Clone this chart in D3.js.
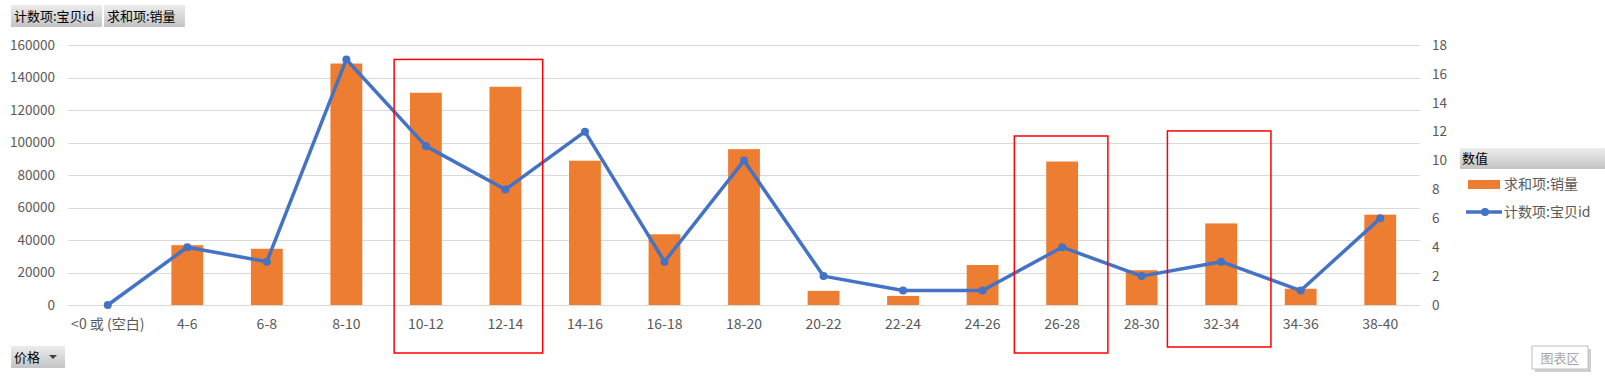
<!DOCTYPE html>
<html>
<head>
<meta charset="utf-8">
<script src="https://cdn.jsdelivr.net/npm/d3@7"></script>
<style>
  body { margin: 0; background: #fff; }
  svg text { font-family: "Noto Sans CJK SC", "Noto Sans", sans-serif; }
</style>
</head>
<body>
<div class="chart"></div>
<script>
// categories (price ranges)
const categories = ["<0 或 (空白)", "4-6", "6-8", "8-10", "10-12", "12-14", "14-16", "16-18",
  "18-20", "20-22", "22-24", "24-26", "26-28", "28-30", "32-34", "34-36", "38-40"];
// 求和项:销量 (bars, left axis)
const salesValues = [0, 36800, 34600, 148600, 130600, 134300, 88800, 43500,
  95900, 8700, 5600, 24600, 88300, 21400, 50200, 10000, 55600];
// 计数项:宝贝id (line, right axis)
const countValues = [0, 4, 3, 17, 11, 8, 12, 3, 10, 2, 1, 1, 4, 2, 3, 1, 6];
const leftTicks = [0, 20000, 40000, 60000, 80000, 100000, 120000, 140000, 160000];
const rightTicks = [0, 2, 4, 6, 8, 10, 12, 14, 16, 18];
// red highlight boxes: categories covered, top on right-axis scale
const highlights = [
  { from: "10-12", to: "12-14", top: 17 },
  { from: "26-28", to: "26-28", top: 11.7 },
  { from: "32-34", to: "32-34", top: 12.05 }
];

const W = 1605, H = 378;
const plot = { left: 68, right: 1420, top: 45, bottom: 305 };

const svg = d3.select(".chart").append("svg")
  .attr("width", W).attr("height", H);

const defs = svg.append("defs");
const grad = defs.append("linearGradient").attr("id", "btnGrad")
  .attr("x1", 0).attr("y1", 0).attr("x2", 0).attr("y2", 1);
grad.append("stop").attr("offset", "0%").attr("stop-color", "#ececec");
grad.append("stop").attr("offset", "100%").attr("stop-color", "#c4c4c4");

// scales
const x = d3.scaleBand().domain(categories).range([plot.left, plot.right]).paddingInner(0).paddingOuter(0);
const barW = x.bandwidth() / 2.5; // gap width 150%
const yL = d3.scaleLinear().domain([0, 160000]).range([plot.bottom, plot.top]);
const yR = d3.scaleLinear().domain([0, 18]).range([plot.bottom, plot.top]);

// gridlines
svg.append("g")
  .selectAll("line")
  .data(leftTicks)
  .join("line")
  .attr("x1", plot.left).attr("x2", plot.right)
  .attr("y1", d => Math.round(yL(d)) + 0.5).attr("y2", d => Math.round(yL(d)) + 0.5)
  .attr("stroke", "#d9d9d9").attr("stroke-width", 1);

// left axis
const axL = svg.append("g")
  .attr("transform", `translate(${plot.left - 13},0)`)
  .call(d3.axisLeft(yL).tickValues(leftTicks).tickFormat(d3.format("d")).tickSize(0).tickPadding(0));
axL.select(".domain").remove();
axL.selectAll("text").attr("fill", "#595959").style("font-size", "13.5px");

// right axis
const axR = svg.append("g")
  .attr("transform", `translate(${plot.right + 12},0)`)
  .call(d3.axisRight(yR).tickValues(rightTicks).tickSize(0).tickPadding(0));
axR.select(".domain").remove();
axR.selectAll("text").attr("fill", "#595959").style("font-size", "13.5px");

// x axis
const axX = svg.append("g")
  .attr("transform", `translate(0,${plot.bottom + 14})`)
  .call(d3.axisBottom(x).tickSize(0).tickPadding(0));
axX.select(".domain").remove();
axX.selectAll("text").attr("fill", "#595959").style("font-size", "14px");

// bars
svg.append("g")
  .selectAll("rect")
  .data(categories.map((c, i) => ({ c, v: salesValues[i] })))
  .join("rect")
  .attr("x", d => x(d.c) + (x.bandwidth() - barW) / 2)
  .attr("y", d => yL(d.v))
  .attr("width", barW)
  .attr("height", d => yL(0) - yL(d.v))
  .attr("fill", "#ED7D31");

// line
const lineData = categories.map((c, i) => ({ c, v: countValues[i] }));
const line = d3.line()
  .x(d => x(d.c) + x.bandwidth() / 2)
  .y(d => yR(d.v));
svg.append("path")
  .datum(lineData)
  .attr("fill", "none")
  .attr("stroke", "#4472C4")
  .attr("stroke-width", 3.5)
  .attr("stroke-linejoin", "round")
  .attr("d", line);
svg.append("g")
  .selectAll("circle")
  .data(lineData)
  .join("circle")
  .attr("cx", d => x(d.c) + x.bandwidth() / 2)
  .attr("cy", d => yR(d.v))
  .attr("r", 4)
  .attr("fill", "#4472C4");

// red highlight boxes (hand-drawn, so slightly uneven padding)
const hlPad = [[8, -2.5, 48], [-8, 6, 48], [-14, 10, 42]];
svg.append("g")
  .selectAll("rect")
  .data(highlights)
  .join("rect")
  .attr("x", (d, i) => x(d.from) + hlPad[i][0])
  .attr("y", d => yR(d.top))
  .attr("width", (d, i) => x(d.to) + x.bandwidth() - x(d.from) - hlPad[i][0] + hlPad[i][1])
  .attr("height", (d, i) => plot.bottom + hlPad[i][2] - yR(d.top))
  .attr("fill", "none")
  .attr("stroke", "#ff0000")
  .attr("stroke-width", 1.5);

// pivot field buttons
function fieldButton(bx, by, bw, bh, label, arrow) {
  const g = svg.append("g").attr("transform", `translate(${bx},${by})`);
  g.append("rect").attr("width", bw).attr("height", bh).attr("fill", "url(#btnGrad)");
  g.append("text").attr("x", 3).attr("y", bh / 2 + 4.5)
    .attr("fill", "#000").style("font-size", "13px").text(label);
  if (arrow) {
    g.append("path").attr("d", `M${bw - 16},${bh / 2 - 2} l8,0 l-4,4 z`).attr("fill", "#404040");
  }
}
fieldButton(11, 5, 91, 22, "计数项:宝贝id");
fieldButton(104, 5, 81, 22, "求和项:销量");
fieldButton(11, 346, 54, 22, "价格", true);

// legend
const lg = svg.append("g").attr("transform", "translate(1460,148)");
lg.append("rect").attr("width", 145).attr("height", 21).attr("fill", "url(#btnGrad)");
lg.append("text").attr("x", 2).attr("y", 15).attr("fill", "#000")
  .style("font-size", "13px").text("数值");
lg.append("rect").attr("x", 8).attr("y", 32).attr("width", 32).attr("height", 9).attr("fill", "#ED7D31");
lg.append("text").attr("x", 44).attr("y", 41).attr("fill", "#595959")
  .style("font-size", "14px").text("求和项:销量");
lg.append("line").attr("x1", 6).attr("x2", 42).attr("y1", 64).attr("y2", 64)
  .attr("stroke", "#4472C4").attr("stroke-width", 3.5);
lg.append("circle").attr("cx", 25).attr("cy", 64).attr("r", 4).attr("fill", "#4472C4");
lg.append("text").attr("x", 44).attr("y", 69).attr("fill", "#595959")
  .style("font-size", "14px").text("计数项:宝贝id");

// chart area tag
const tag = svg.append("g").attr("transform", "translate(1532,346)");
tag.append("rect").attr("x", 3).attr("y", 3).attr("width", 56).attr("height", 23).attr("fill", "#d0d0d0");
tag.append("rect").attr("width", 56).attr("height", 23).attr("fill", "#fff")
  .attr("stroke", "#bfbfbf");
tag.append("text").attr("x", 28).attr("y", 16.5).attr("text-anchor", "middle")
  .attr("fill", "#a6a6a6").style("font-size", "13px").text("图表区");
</script>
</body>
</html>
